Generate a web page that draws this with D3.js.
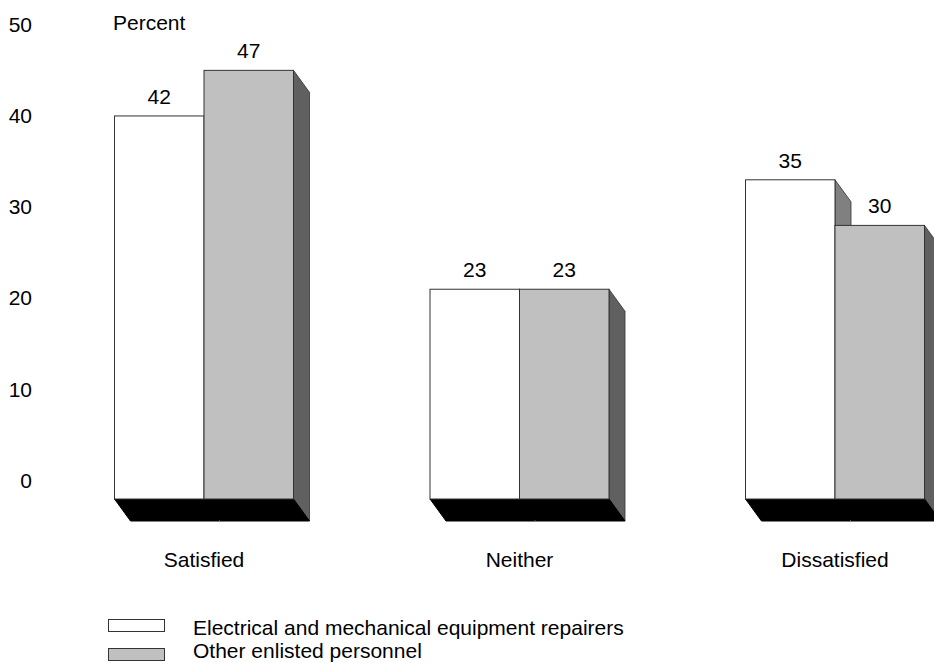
<!DOCTYPE html>
<html>
<head>
<meta charset="utf-8">
<script src="https://cdn.jsdelivr.net/npm/d3@7"></script>
<style>
  body { margin: 0; background: #fff; }
  text { font-family: "Liberation Sans", Arial, Helvetica, sans-serif; font-size: 21px; fill: #000; }
</style>
</head>
<body>
<svg id="chart" width="934" height="663"></svg>
<script>
// Job satisfaction, percent of respondents
const categories = ["Satisfied", "Neither", "Dissatisfied"];
const seriesNames = ["Electrical and mechanical equipment repairers", "Other enlisted personnel"];
const repairers = [42, 23, 35];
const otherEnlisted = [47, 23, 30];
const yTicks = [0, 10, 20, 30, 40, 50];
const yLabel = "Percent";

const seriesValues = [repairers, otherEnlisted];
const frontFill = ["#ffffff", "#c0c0c0"];
const sideFill = ["#808080", "#606060"];
const depthX = 16, depthY = 22;

const svg = d3.select("#chart");

const x0 = d3.scalePoint().domain(categories).range([204, 835]);
const x1 = d3.scaleBand().domain(seriesNames).range([-89.5, 89.5]);
const y = d3.scaleLinear().domain([0, 50]).range([499, 43]);
// value axis sits on the back wall, lifted by the depth offset
const yAxisScale = y.copy().range([499 - 18.5, 43 - 18.5]);

// y axis labels (no line, no ticks)
const axis = svg.append("g")
  .attr("transform", "translate(32,0)")
  .call(d3.axisLeft(yAxisScale).tickValues(yTicks).tickSize(0).tickPadding(0));
axis.select(".domain").remove();
axis.selectAll("text").attr("font-size", null).attr("font-family", null).style("fill", "#000");

svg.append("text").attr("x", 113).attr("y", 30).text(yLabel);

const groups = svg.selectAll("g.group")
  .data(categories)
  .join("g")
  .attr("class", "group")
  .attr("transform", d => `translate(${x0(d)},0)`);

groups.each(function (cat, ci) {
  const g = d3.select(this);
  const left = x1(seriesNames[0]);
  const right = x1(seriesNames[seriesNames.length - 1]) + x1.bandwidth();
  const base = y(0);
  const bars = seriesNames.map((s, si) => ({
    v: seriesValues[si][ci], bx: x1(s), bw: x1.bandwidth(), top: y(seriesValues[si][ci]), si
  }));

  // side faces
  bars.forEach(b => {
    g.append("path")
      .attr("d", `M${b.bx + b.bw},${b.top}L${b.bx + b.bw + depthX},${b.top + depthY}L${b.bx + b.bw + depthX},${base + depthY}L${b.bx + b.bw},${base}Z`)
      .attr("fill", sideFill[b.si]).attr("stroke", "#333").attr("stroke-width", 0.8);
  });

  // floor slab
  g.append("path")
    .attr("d", `M${left},${base}L${right},${base}L${right + depthX},${base + depthY}L${left + depthX},${base + depthY}Z`)
    .attr("fill", "#000").attr("stroke", "#000").attr("stroke-width", 1);
  const mid = x1(seriesNames[1]);
  g.append("line")
    .attr("x1", mid + depthX - 1).attr("y1", base + depthY - 1).attr("x2", mid + depthX).attr("y2", base + depthY)
    .attr("stroke", "#555").attr("stroke-width", 1);

  // front faces and value labels
  bars.forEach(b => {
    g.append("rect")
      .attr("x", b.bx).attr("y", b.top).attr("width", b.bw).attr("height", base - b.top)
      .attr("fill", frontFill[b.si]).attr("stroke", "#333").attr("stroke-width", 1);
    g.append("text")
      .attr("x", b.bx + b.bw / 2).attr("y", b.top - 12)
      .attr("text-anchor", "middle").text(b.v);
  });

  g.append("text").attr("x", 0).attr("y", 567).attr("text-anchor", "middle").text(cat);
});

// legend
const legend = svg.append("g");
seriesNames.forEach((s, si) => {
  const ly = 619 + si * 29;
  legend.append("rect")
    .attr("x", 108.5).attr("y", ly + 0.5).attr("width", 56).attr("height", 12)
    .attr("fill", frontFill[si]).attr("stroke", "#333").attr("stroke-width", 1);
  legend.append("text").attr("x", 193).attr("y", 635 + si * 23).text(s);
});
</script>
</body>
</html>
